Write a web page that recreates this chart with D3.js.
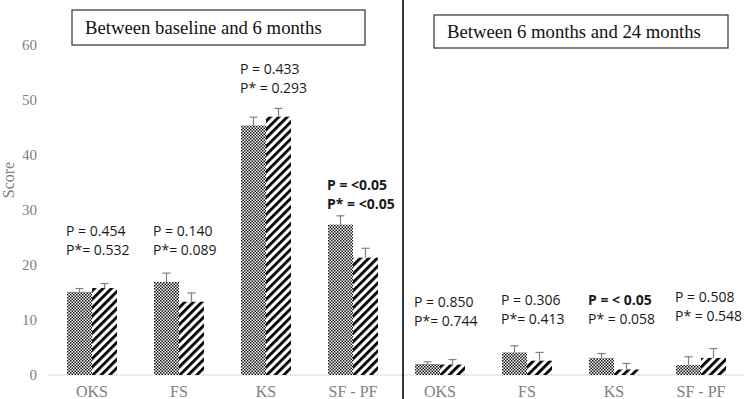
<!DOCTYPE html>
<html>
<head>
<meta charset="utf-8">
<script src="https://cdn.jsdelivr.net/npm/d3@7"></script>
<style>
  body { margin: 0; background: #fff; }
  svg { display: block; }
</style>
</head>
<body>
<div id="chart"></div>
<script>
// data
var categories = ["OKS", "FS", "KS", "SF - PF"];
var periods = ["Between baseline and 6 months", "Between 6 months and 24 months"];

var dotted  = [[15.1, 16.9, 45.3, 27.3], [2.0, 4.1, 3.1, 1.8]];
var hatched = [[15.8, 13.3, 46.9, 21.3], [1.9, 2.6, 1.0, 3.1]];
var dottedErr  = [[0.6, 1.6, 1.5, 1.6], [0.4, 1.2, 0.8, 1.5]];
var hatchedErr = [[0.8, 1.6, 1.5, 1.7], [0.9, 1.5, 1.1, 1.7]];

var pMain = [["P = 0.454", "P = 0.140", "P = 0.433", "P = <0.05"],
             ["P = 0.850", "P = 0.306", "P = < 0.05", "P = 0.508"]];
var pStar = [["P*= 0.532", "P*= 0.089", "P* = 0.293", "P* = <0.05"],
             ["P*= 0.744", "P*= 0.413", "P* = 0.058", "P* = 0.548"]];
var pMainBold = [[false, false, false, true], [false, false, true, false]];
var pStarBold = [[false, false, false, true], [false, false, false, false]];

var yTicks = [0, 10, 20, 30, 40, 50, 60];

// where the p-value text sits (score units, first line baseline)
var pTextAt = [[25.2, 25.2, 54.6, 33.6], [12.4, 12.7, 12.7, 13.2]];

var svgWidth = 744;
var svgHeight = 399;

var svg = d3.select("#chart")
  .append("svg")
  .attr("width", svgWidth)
  .attr("height", svgHeight);

// patterns
var defs = svg.append("defs");
var dots = defs.append("pattern")
  .attr("id", "dots")
  .attr("patternUnits", "userSpaceOnUse")
  .attr("width", 3)
  .attr("height", 3);
dots.append("rect").attr("width", 3).attr("height", 3).attr("fill", "#fff");
dots.append("rect").attr("width", 1.5).attr("height", 1.5).attr("fill", "#111");
dots.append("rect").attr("x", 1.5).attr("y", 1.5).attr("width", 1.5).attr("height", 1.5).attr("fill", "#111");

var hatch = defs.append("pattern")
  .attr("id", "hatch")
  .attr("patternUnits", "userSpaceOnUse")
  .attr("width", 6)
  .attr("height", 6)
  .attr("patternTransform", "rotate(45)");
hatch.append("rect").attr("width", 6).attr("height", 6).attr("fill", "#fff");
hatch.append("rect").attr("width", 2.8).attr("height", 6).attr("fill", "#000");

// flat list of slots across the two panels
var rows = [];
periods.forEach(function(p, i) {
  categories.forEach(function(c, j) {
    rows.push({
      key: i + "-" + c, cat: c, panel: i, idx: j,
      dotted: dotted[i][j], hatched: hatched[i][j],
      dErr: dottedErr[i][j], hErr: hatchedErr[i][j],
      pMain: pMain[i][j], pStar: pStar[i][j],
      mainBold: pMainBold[i][j], starBold: pStarBold[i][j],
      textAt: pTextAt[i][j]
    });
  });
});

var x0 = d3.scaleBand()
  .domain(rows.map(d => d.key))
  .range([48.5, 744.5])
  .paddingInner(37 / 87)
  .paddingOuter(18.5 / 87);

var x1 = d3.scaleBand()
  .domain(["dotted", "hatched"])
  .range([0, x0.bandwidth()]);

var y = d3.scaleLinear()
  .domain([0, 60])
  .range([375, 44.5]);

// y tick labels
svg.append("g")
  .selectAll("text")
  .data(yTicks)
  .enter()
  .append("text")
  .attr("x", 37)
  .attr("y", d => y(d) + 5)
  .attr("text-anchor", "end")
  .attr("font-family", "Liberation Serif, Times New Roman, serif")
  .attr("font-size", "15px")
  .attr("fill", "#808080")
  .text(d => d);

svg.append("text")
  .attr("transform", "translate(14, 180) rotate(-90)")
  .attr("text-anchor", "middle")
  .attr("font-family", "Liberation Serif, Times New Roman, serif")
  .attr("font-size", "16px")
  .attr("fill", "#808080")
  .text("Score");

// baseline
svg.append("line")
  .attr("x1", 48).attr("x2", 744)
  .attr("y1", y(0)).attr("y2", y(0))
  .attr("stroke", "#d9d9d9")
  .attr("stroke-width", 1);

// bars
var groups = svg.append("g")
  .selectAll("g")
  .data(rows)
  .enter()
  .append("g")
  .attr("transform", d => `translate(${x0(d.key)}, 0)`);

groups.append("rect")
  .attr("x", x1("dotted"))
  .attr("y", d => y(d.dotted))
  .attr("width", x1.bandwidth())
  .attr("height", d => y(0) - y(d.dotted))
  .attr("fill", "url(#dots)");

groups.append("rect")
  .attr("x", x1("hatched"))
  .attr("y", d => y(d.hatched))
  .attr("width", x1.bandwidth())
  .attr("height", d => y(0) - y(d.hatched))
  .attr("fill", "url(#hatch)");

// error bars (upper only)
function errBar(sel, name, valKey, errKey) {
  var cx = x1(name) + x1.bandwidth() / 2;
  sel.append("line")
    .attr("x1", cx).attr("x2", cx)
    .attr("y1", d => y(d[valKey]))
    .attr("y2", d => y(d[valKey] + d[errKey]))
    .attr("stroke", "#808080")
    .attr("stroke-width", 1.2);
  sel.append("line")
    .attr("x1", cx - 4).attr("x2", cx + 4)
    .attr("y1", d => y(d[valKey] + d[errKey]))
    .attr("y2", d => y(d[valKey] + d[errKey]))
    .attr("stroke", "#808080")
    .attr("stroke-width", 1.2);
}
errBar(groups, "dotted", "dotted", "dErr");
errBar(groups, "hatched", "hatched", "hErr");

// p-value labels
groups.append("text")
  .attr("x", -1)
  .attr("y", d => y(d.textAt))
  .attr("font-family", "Open Sans, Liberation Sans, sans-serif")
  .attr("font-size", "14px")
  .attr("font-weight", d => d.mainBold ? "bold" : "normal")
  .attr("fill", "#1a1a1a")
  .text(d => d.pMain);

groups.append("text")
  .attr("x", -1)
  .attr("y", d => y(d.textAt) + 19)
  .attr("font-family", "Open Sans, Liberation Sans, sans-serif")
  .attr("font-size", "14px")
  .attr("font-weight", d => d.starBold ? "bold" : "normal")
  .attr("fill", "#1a1a1a")
  .text(d => d.pStar);

// category labels
svg.append("g")
  .selectAll("text")
  .data(rows)
  .enter()
  .append("text")
  .attr("x", d => x0(d.key) + x0.bandwidth() / 2)
  .attr("y", 397)
  .attr("text-anchor", "middle")
  .attr("font-family", "Liberation Serif, Times New Roman, serif")
  .attr("font-size", "16px")
  .attr("fill", "#808080")
  .text(d => d.cat);

// divider between panels
svg.append("line")
  .attr("x1", 403).attr("x2", 403)
  .attr("y1", 0).attr("y2", svgHeight)
  .attr("stroke", "#222")
  .attr("stroke-width", 1.8);

// panel titles in boxes
var titleBoxes = [
  { x: 72, y: 10, w: 293, h: 35, tx: 85, ty: 34 },
  { x: 434, y: 15, w: 294, h: 33, tx: 447, ty: 38 }
];
titleBoxes.forEach(function(b, i) {
  svg.append("rect")
    .attr("x", b.x).attr("y", b.y)
    .attr("width", b.w).attr("height", b.h)
    .attr("fill", "#fff")
    .attr("stroke", "#404040")
    .attr("stroke-width", 1.3);
  svg.append("text")
    .attr("x", b.tx).attr("y", b.ty)
    .attr("font-family", "Liberation Serif, Times New Roman, serif")
    .attr("font-size", "18.7px")
    .attr("fill", "#111")
    .text(periods[i]);
});
</script>
</body>
</html>
